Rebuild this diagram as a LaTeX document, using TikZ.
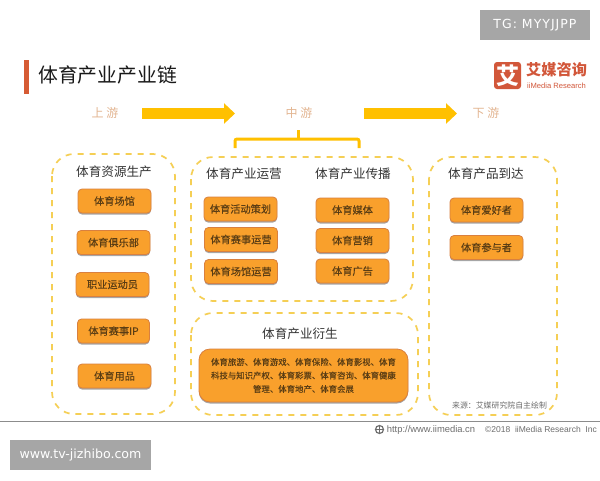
\documentclass[tikz,border=0pt]{standalone}
\usepackage{fontspec}
\setmainfont{Noto Sans CJK SC}
\newfontfamily\latinf{Liberation Sans}
\newfontfamily\wmf{DejaVu Sans}
\newfontfamily\wmg[LetterSpace=8]{DejaVu Sans}
\newfontfamily\itemf[FakeBold=0.25]{Noto Sans CJK SC}
\usetikzlibrary{arrows.meta,shadows}
\definecolor{barc}{HTML}{FFC000}
\definecolor{dashy}{HTML}{F5CF55}
\definecolor{og}{HTML}{F9A02C}
\definecolor{ogb}{HTML}{D9803F}
\definecolor{txtb}{HTML}{5A3D14}
\definecolor{tanc}{HTML}{E3B591}
\definecolor{wm}{HTML}{A6A6A6}
\definecolor{logoc}{HTML}{D2573A}
\definecolor{ft}{HTML}{6E6E6E}
\tikzset{
 x=1pt,y=-1pt,
 group/.style={draw=dashy,line width=1.7pt,dash pattern=on 6pt off 6pt,rounded corners=22pt},
 item/.style={draw=ogb,fill=og,line width=0.8pt,rounded corners=4pt,minimum width=73pt,minimum height=24pt,inner sep=0pt,text=txtb,font=\itemf\fontsize{10.2}{12}\selectfont,drop shadow={shadow xshift=0pt,shadow yshift=-1.5pt,opacity=0.35,fill=black}},
 head/.style={inner sep=0pt,text=black!80,font=\fontsize{12.6}{15}\selectfont},
 stage/.style={inner sep=0pt,text=tanc,font=\fontsize{12}{14}\selectfont},
 flow/.style={draw=barc,line width=11pt,-{Triangle[length=11pt,width=20pt]}},
 wmark/.style={fill=wm,text=white,inner sep=0pt},
 foot/.style={inner sep=0pt,text=ft,font=\latinf\fontsize{8.5}{10}\selectfont},
}
\begin{document}
\begin{tikzpicture}
\useasboundingbox (0,0) rectangle (600,480);
\fill[white] (0,0) rectangle (600,480);
% watermarks
\node[wmark,minimum width=110pt,minimum height=30pt,font=\wmg\fontsize{12.5}{14}\selectfont] (wm1) at (535,25) {TG: MYYJJPP};
\node[wmark,minimum width=141pt,minimum height=30pt,font=\wmf\fontsize{12.6}{14}\selectfont] (wm2) at (80.5,455) {www.tv-jizhibo.com};
% title
\fill[logoc!90!orange] (24,60) rectangle (29,94);
\node[inner sep=0pt,anchor=west,text=black!90,font=\fontsize{19.8}{22}\selectfont] (title) at (38,75) {体育产业产业链};
% logo
\node[fill=logoc,rounded corners=3pt,minimum width=27pt,minimum height=27pt,inner sep=0pt,text=white,font=\fontsize{23}{24}\selectfont\bfseries] (lg) at (507.5,75.5) {艾};
\node[inner sep=0pt,anchor=west,text=logoc,font=\fontsize{15.2}{16}\selectfont\bfseries] (lgt) at (526,69.5) {艾媒咨询};
\node[inner sep=0pt,anchor=west,text=logoc,font=\latinf\fontsize{7.6}{8}\selectfont] (lge) at (527,86) {iiMedia Research};
% stages
\node[stage] (up) at (105,113) {上 游};
\node[stage] (mid) at (299,113) {中 游};
\node[stage] (down) at (486,113) {下 游};
\coordinate (a1s) at (142,113.5); \coordinate (a1e) at (235,113.5);
\coordinate (a2s) at (364,113.5); \coordinate (a2e) at (457,113.5);
\draw[flow] (a1s) -- (a1e);
\draw[flow] (a2s) -- (a2e);
% bracket
\coordinate (bl) at (235,148); \coordinate (blt) at (235,139);
\coordinate (brt) at (359,139); \coordinate (br) at (359,148);
\coordinate (bc) at (298,139); \coordinate (bct) at (298,130);
\draw[draw=barc,line width=3pt,rounded corners=2pt] (bl) -- (blt) -- (brt) -- (br);
\draw[draw=barc,line width=3pt] (bc) -- (bct);
% groups
\draw[group] (52,154) rectangle (175,414);
\draw[group] (191,157) rectangle (413,301);
\draw[group] (191,313) rectangle (418,415);
\draw[group] (429,157) rectangle (557,415);
% headings
\node[head] (h1) at (114,172) {体育资源生产};
\node[head] (h2) at (244,174) {体育产业运营};
\node[head] (h3) at (353,174) {体育产业传播};
\node[head] (h4) at (486,174) {体育产品到达};
\node[head] (h5) at (300,334) {体育产业衍生};
% items
\node[item] (c1a) at (114.5,201) {体育场馆};
\node[item] (c1b) at (113.5,242.5) {体育俱乐部};
\node[item] (c1c) at (112.5,284.5) {职业运动员};
\node[item,minimum width=72pt] (c1d) at (113.5,331) {体育赛事IP};
\node[item] (c1e) at (114.5,376) {体育用品};
\node[item] (c2a) at (240.5,209) {体育活动策划};
\node[item] (c2b) at (241,239.5) {体育赛事运营};
\node[item] (c2c) at (241,271.5) {体育场馆运营};
\node[item] (c3a) at (352.5,210) {体育媒体};
\node[item] (c3b) at (352.5,240.5) {体育营销};
\node[item] (c3c) at (352.5,271) {体育广告};
\node[item] (c4a) at (486.5,210) {体育爱好者};
\node[item] (c4b) at (486.5,247.5) {体育参与者};
\node[item,rounded corners=11pt,minimum width=209pt,minimum height=53pt,align=center,font=\itemf\fontsize{8.4}{13.5}\selectfont] (big) at (303.5,375.5) {体育旅游、体育游戏、体育保险、体育影视、体育\\科技与知识产权、体育彩票、体育咨询、体育健康\\管理、体育地产、体育会展};
% source
\node[inner sep=0pt,text=ft,font=\fontsize{7.9}{9}\selectfont] (src) at (499.5,405.5) {来源\char"FF1A 艾媒研究院自主绘制};
% footer
\coordinate (fl) at (0,421.5); \coordinate (fr) at (600,421.5);
\draw[black!45,line width=1pt] (fl) -- (fr);
\node[draw=ft,circle,line width=1.2pt,minimum size=8pt,inner sep=0pt] (globe) at (379.5,429.5) {};
\draw[ft,line width=0.6pt] (globe.north) -- (globe.south) (globe.west) -- (globe.east);
\node[foot,font=\latinf\fontsize{9.4}{11}\selectfont] (url) at (431,430) {http://www.iimedia.cn};
\node[foot] (cp) at (541,429) {©2018\ \ iiMedia Research\ \ Inc};
\end{tikzpicture}
\end{document}
